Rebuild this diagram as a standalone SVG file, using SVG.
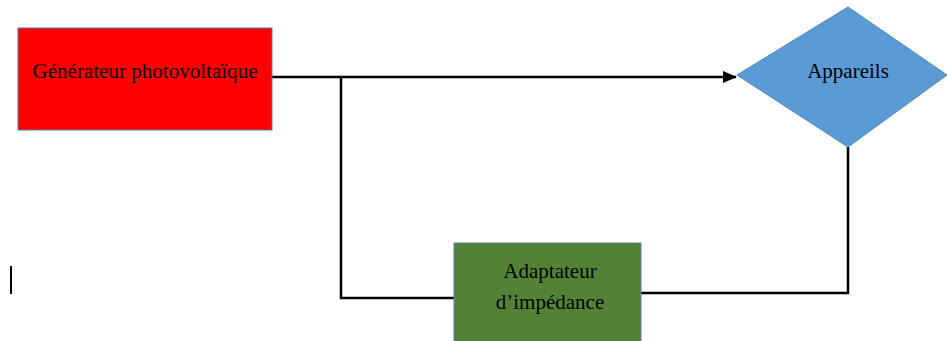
<svg xmlns="http://www.w3.org/2000/svg" width="947" height="341" viewBox="0 0 947 341">
<style>
.lbl{font-family:"Liberation Serif","Times New Roman",serif;font-size:21px;fill:#000;text-anchor:middle}
.wire{stroke:#000;stroke-width:2.5;fill:none}
</style>
<defs>
<marker id="arr" markerWidth="14" markerHeight="12" refX="13" refY="6" orient="auto" markerUnits="userSpaceOnUse">
<path d="M0,0 L14,6 L0,12 Z" fill="#000"/>
</marker>
</defs>
<rect width="947" height="341" fill="#fff"/>
<g id="connectors">
<line class="wire" x1="272" y1="77" x2="736" y2="77" marker-end="url(#arr)"/>
<polyline class="wire" points="341,77 341,298 454,298"/>
<polyline class="wire" points="641,293 848,293 848,147"/>
</g>
<g id="generateur">
<rect x="18" y="28" width="254" height="102" fill="#ff0000" stroke="#5b7fa6" stroke-width="1"/>
<text class="lbl" x="145" y="78" textLength="225" lengthAdjust="spacingAndGlyphs">Générateur photovoltaïque</text>
</g>
<g id="appareils">
<polygon points="737,75 848,7 947,75 848,147" fill="#5b9bd5" stroke="#4a86bf" stroke-width="1"/>
<text class="lbl" x="848" y="78">Appareils</text>
</g>
<g id="adaptateur">
<rect x="454" y="243" width="187" height="100" fill="#548235" stroke="#5b7fa6" stroke-width="1"/>
<text class="lbl" x="550" y="278">Adaptateur</text>
<text class="lbl" x="550" y="309">d’impédance</text>
</g>
<line x1="11" y1="266" x2="11" y2="294" stroke="#000" stroke-width="2"/>
</svg>
